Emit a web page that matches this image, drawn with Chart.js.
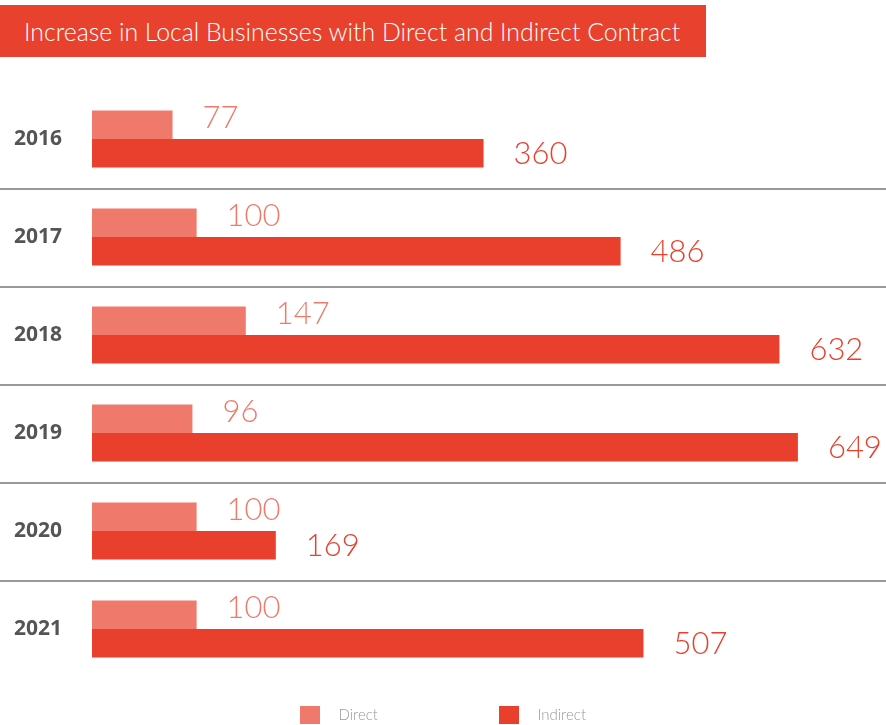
<!DOCTYPE html>
<html>
<head>
<meta charset="utf-8">
<script src="https://cdn.jsdelivr.net/npm/chart.js@4.4.1/dist/chart.umd.min.js"></script>
<style>
html,body{margin:0;padding:0;background:#fff;}
#wrap{position:relative;width:886px;height:725px;overflow:hidden;}
#c{position:absolute;left:0;top:0;width:886px;height:725px;}
#title{position:absolute;left:0;top:5px;width:706px;height:52px;background:#E8412E;color:#fff;
  font-family:Lato,"Open Sans",sans-serif;font-weight:300;font-size:26px;line-height:52px;white-space:nowrap;overflow:hidden;}
#tt{position:absolute;left:24px;top:0;display:inline-block;transform-origin:0 50%;}
</style>
</head>
<body>
<div id="wrap">
  <canvas id="c" width="886" height="725"></canvas>
  <div id="title"><span id="tt">Increase in Local Businesses with Direct and Indirect Contract</span></div>
</div>
<script>
// ---- data ----
const categories = ['2016', '2017', '2018', '2019', '2020', '2021'];
const directValues = [77, 100, 147, 96, 100, 100];
const indirectValues = [360, 486, 632, 649, 169, 507];
const seriesNames = ['Direct', 'Indirect'];

// ---- styles ----
const COLOR_DIRECT = '#EF7A6C';
const COLOR_INDIRECT = '#E8402D';

// fit title text width
(function(){
  const s = document.getElementById('tt');
  const w = s.offsetWidth;
  if (w > 0) s.style.transform = 'scaleX(' + (656 / w) + ')';
})();

function makeSwatch(color) {
  const cv = document.createElement('canvas');
  cv.width = 31; cv.height = 18;
  const g = cv.getContext('2d');
  g.fillStyle = color;
  g.fillRect(0, 0, 20, 18);
  return cv;
}

const separators = {
  id: 'separators',
  beforeDatasetsDraw(chart) {
    const y = chart.scales.y, ctx = chart.ctx;
    ctx.save();
    ctx.strokeStyle = '#999';
    ctx.lineWidth = 2;
    for (let i = 0; i < categories.length - 1; i++) {
      const py = Math.round((y.getPixelForValue(i) + y.getPixelForValue(i + 1)) / 2) + 1;
      ctx.beginPath();
      ctx.moveTo(0, py);
      ctx.lineTo(chart.width, py);
      ctx.stroke();
    }
    ctx.restore();
  }
};

const valueLabels = {
  id: 'valueLabels',
  afterDatasetsDraw(chart) {
    const ctx = chart.ctx;
    chart.data.datasets.forEach((ds, di) => {
      const meta = chart.getDatasetMeta(di);
      meta.data.forEach((el, i) => {
        ctx.save();
        ctx.font = '300 31px Lato, "Open Sans", sans-serif';
        ctx.fillStyle = ds.backgroundColor;
        ctx.textAlign = 'left';
        ctx.textBaseline = 'middle';
        ctx.fillText(String(ds.data[i]), el.x + 30, el.y + (di === 0 ? -7 : 1));
        ctx.restore();
      });
    });
  }
};

// place the legend row near the bottom edge (legend padding is used as item spacing)
const legendPlace = {
  id: 'legendPlace',
  afterLayout(chart) {
    const l = chart.legend;
    if (!l) return;
    const P = l.options.labels.padding;
    l.left = 0; l.right = chart.width; l.width = chart.width;
    l.top = 715 - 7.5 - P;
    l.bottom = l.top + l.height;
  }
};

new Chart(document.getElementById('c'), {
  type: 'bar',
  data: {
    labels: categories,
    datasets: [
      { label: seriesNames[0], data: directValues, backgroundColor: COLOR_DIRECT, xAxisID: 'x',
        barPercentage: 1, categoryPercentage: 0.58, borderWidth: 0 },
      { label: seriesNames[1], data: indirectValues, backgroundColor: COLOR_INDIRECT, xAxisID: 'x2',
        barPercentage: 1, categoryPercentage: 0.58, borderWidth: 0 }
    ]
  },
  options: {
    indexAxis: 'y',
    responsive: false,
    animation: false,
    devicePixelRatio: 1,
    layout: { padding: { top: 90, bottom: -99, left: 0, right: 0 } },
    scales: {
      y: {
        grid: { display: false },
        border: { display: false },
        ticks: { color: '#555', padding: 22, font: { family: '"Open Sans", Lato, sans-serif', weight: 'bold', size: 21 } },
        afterFit(s) { s.width = 92; }
      },
      x: { type: 'linear', display: false, min: 0, max: 759 },
      x2: { type: 'linear', axis: 'x', display: false, min: 0, max: 730 }
    },
    plugins: {
      tooltip: { enabled: false },
      legend: {
        position: 'bottom',
        align: 'center',
        labels: {
          usePointStyle: true,
          pointStyleWidth: 31,
          padding: 121,
          color: '#999',
          font: { family: 'Lato, "Open Sans", sans-serif', size: 15, weight: '300' },
          generateLabels(chart) {
            return chart.data.datasets.map((ds, i) => ({
              text: ds.label,
              fillStyle: ds.backgroundColor,
              strokeStyle: ds.backgroundColor,
              lineWidth: 0,
              pointStyle: makeSwatch(ds.backgroundColor),
              hidden: false,
              datasetIndex: i,
              fontColor: '#999'
            }));
          }
        }
      }
    }
  },
  plugins: [separators, valueLabels, legendPlace]
});
</script>
</body>
</html>
